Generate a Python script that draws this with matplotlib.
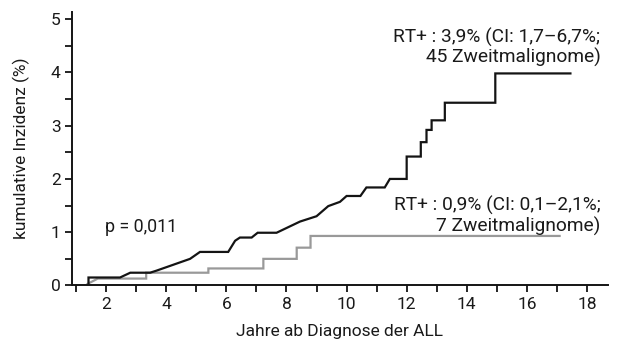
import matplotlib
matplotlib.use("Agg")
import matplotlib.pyplot as plt
from matplotlib.ticker import MultipleLocator

plt.rcParams['font.family'] = ['Roboto', 'DejaVu Sans']

# Kurve 1 (3,9%) - Jahre / kumulative Inzidenz (%)
jahre_a = [1.41, 1.41, 2.46, 2.80, 3.46, 3.68, 4.79, 5.12, 6.06, 6.29, 6.45, 6.84, 7.04,
           7.67, 8.45, 9.00, 9.39, 9.78, 10.0, 10.46, 10.66, 11.27, 11.44,
           12.0, 12.0, 12.47, 12.47, 12.66, 12.66, 12.83, 12.83, 13.27, 13.27,
           14.95, 14.95, 17.45]
inz_a = [0.04, 0.15, 0.15, 0.24, 0.24, 0.28, 0.50, 0.63, 0.63, 0.84, 0.90, 0.90, 0.99,
         0.99, 1.20, 1.30, 1.49, 1.57, 1.68, 1.68, 1.84, 1.84, 2.00,
         2.00, 2.42, 2.42, 2.69, 2.69, 2.92, 2.92, 3.10, 3.10, 3.43,
         3.43, 3.98, 3.98]

# Kurve 2 (0,9%)
jahre_b = [1.38, 1.72, 3.33, 3.33, 5.40, 5.40, 7.23, 7.23, 8.34, 8.34, 8.80, 8.80, 17.09]
inz_b = [0.03, 0.13, 0.13, 0.24, 0.24, 0.32, 0.32, 0.50, 0.50, 0.71, 0.71, 0.93, 0.93]

fig = plt.figure(figsize=(6.2, 3.48), dpi=100)
ax = fig.add_axes([0.1156, 0.1796, 0.865, 0.787])

ax.plot(jahre_b, inz_b, color='#999999', lw=1.6, solid_joinstyle='miter')
ax.plot(jahre_a, inz_a, color='#141414', lw=1.6, solid_joinstyle='miter')

ax.set_xlim(0.85, 18.7)
ax.set_ylim(0, 5.14)
for s in ['top', 'right']:
    ax.spines[s].set_visible(False)
for s in ['left', 'bottom']:
    ax.spines[s].set_linewidth(1.4)
    ax.spines[s].set_color('#141414')

ax.xaxis.set_major_locator(MultipleLocator(2))
ax.xaxis.set_minor_locator(MultipleLocator(1))
ax.yaxis.set_major_locator(MultipleLocator(1))
ax.yaxis.set_minor_locator(MultipleLocator(0.5))
ax.set_xticks(range(2, 19, 2))
ax.tick_params(which='both', direction='out', length=5, width=1.3, color='#141414',
               labelsize=12.5, labelcolor='#1a1a1a', pad=3)

ax.set_xlabel('Jahre ab Diagnose der ALL', fontsize=12.5, color='#1a1a1a', labelpad=9)
ax.set_ylabel('kumulative Inzidenz (%)', fontsize=12.5, color='#1a1a1a', labelpad=15)

ax.text(18.45, 4.47, 'RT+ : 3,9% (CI: 1,7–6,7%;\n45 Zweitmalignome)', ha='right', va='center',
        fontsize=13.8, color='#1a1a1a', linespacing=1.1)
ax.text(18.45, 1.30, 'RT+ : 0,9% (CI: 0,1–2,1%;\n7 Zweitmalignome)', ha='right', va='center',
        fontsize=13.8, color='#1a1a1a', linespacing=1.1)
ax.text(1.96, 1.10, 'p = 0,011', ha='left', va='center', fontsize=12.8, color='#1a1a1a')

fig.savefig('out.png', dpi=100)
